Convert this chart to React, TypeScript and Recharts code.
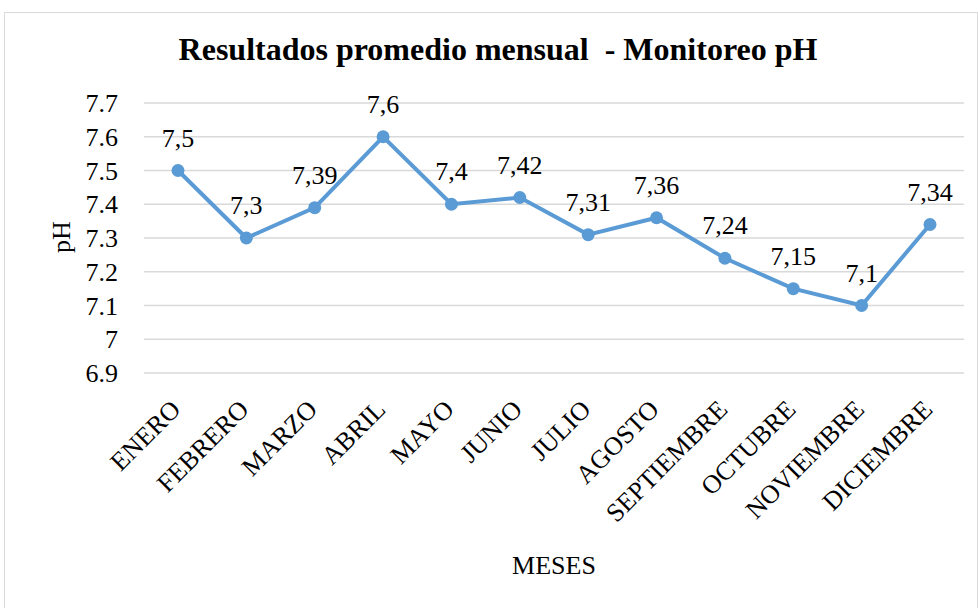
import React from "react";
import { LineChart, Line, XAxis, YAxis, CartesianGrid, LabelList } from "recharts";

const MONTHS = [
  "ENERO",
  "FEBRERO",
  "MARZO",
  "ABRIL",
  "MAYO",
  "JUNIO",
  "JULIO",
  "AGOSTO",
  "SEPTIEMBRE",
  "OCTUBRE",
  "NOVIEMBRE",
  "DICIEMBRE",
];
const PH_VALUES = [7.5, 7.3, 7.39, 7.6, 7.4, 7.42, 7.31, 7.36, 7.24, 7.15, 7.1, 7.34];
const Y_TICKS = [6.9, 7, 7.1, 7.2, 7.3, 7.4, 7.5, 7.6, 7.7];

const FONT = '"Liberation Serif", "Times New Roman", serif';
const BLUE = "#5B9BD5";

const data = MONTHS.map((month, i) => ({ month, ph: PH_VALUES[i] }));

function MonthTick({ x, y, payload }: any) {
  const ax = x + 4;
  const ay = y + 30;
  return (
    <text
      x={ax}
      y={ay}
      transform={`rotate(-45, ${ax}, ${ay})`}
      textAnchor="end"
      fontSize={26}
      fontFamily={FONT}
      fill="#000"
    >
      {payload.value}
    </text>
  );
}

function PhTick({ x, y, payload }: any) {
  return (
    <text x={x} y={y + 9} textAnchor="end" fontSize={26} fontFamily={FONT} fill="#000">
      {String(payload.value)}
    </text>
  );
}

function ValueLabel({ x, y, value }: any) {
  return (
    <text x={x} y={y - 24} textAnchor="middle" fontSize={26} fontFamily={FONT} fill="#000">
      {String(value).replace(".", ",")}
    </text>
  );
}

export default function App() {
  return (
    <div style={{ position: "absolute", left: 0, top: 0, width: 978, height: 608, background: "#fff", fontFamily: FONT }}>
      <div
        style={{
          position: "absolute",
          left: 4,
          top: 12,
          width: 972,
          height: 600,
          border: "1.5px solid #d9d9d9",
        }}
      />
      <div
        style={{
          position: "absolute",
          left: 0,
          width: 996,
          top: 31,
          textAlign: "center",
          fontFamily: FONT,
          fontSize: 32,
          fontWeight: "bold",
          lineHeight: "36px",
          whiteSpace: "pre",
        }}
      >
        {"Resultados promedio mensual  - Monitoreo pH"}
      </div>
      <div
        style={{
          position: "absolute",
          left: 62,
          top: 237,
          transform: "translate(-50%, -50%) rotate(-90deg)",
          fontFamily: FONT,
          fontSize: 26,
          lineHeight: "30px",
        }}
      >
        pH
      </div>
      <div
        style={{
          position: "absolute",
          left: 554,
          top: 566,
          transform: "translate(-50%, -50%)",
          fontFamily: FONT,
          fontSize: 26,
          lineHeight: "30px",
        }}
      >
        MESES
      </div>
      <div style={{ position: "absolute", left: 0, top: 0 }}>
        <LineChart
          width={978}
          height={608}
          data={data}
          margin={{ top: 103, right: 14, bottom: 0, left: 0 }}
          style={{ fontFamily: FONT }}
        >
          <CartesianGrid vertical={false} stroke="#d9d9d9" strokeWidth={1.5} />
          <XAxis
            dataKey="month"
            height={235}
            axisLine={false}
            tickLine={false}
            interval={0}
            padding={{ left: 34, right: 34 }}
            tick={<MonthTick />}
          />
          <YAxis
            width={144}
            domain={[6.9, 7.7]}
            ticks={Y_TICKS}
            interval={0}
            axisLine={false}
            tickLine={false}
            tickMargin={20}
            tick={<PhTick />}
          />
          <Line
            type="linear"
            dataKey="ph"
            stroke={BLUE}
            strokeWidth={4}
            dot={{ r: 6.5, fill: BLUE, stroke: BLUE, strokeWidth: 0 }}
            activeDot={false}
            isAnimationActive={false}
          >
            <LabelList dataKey="ph" content={<ValueLabel />} />
          </Line>
        </LineChart>
      </div>
    </div>
  );
}
